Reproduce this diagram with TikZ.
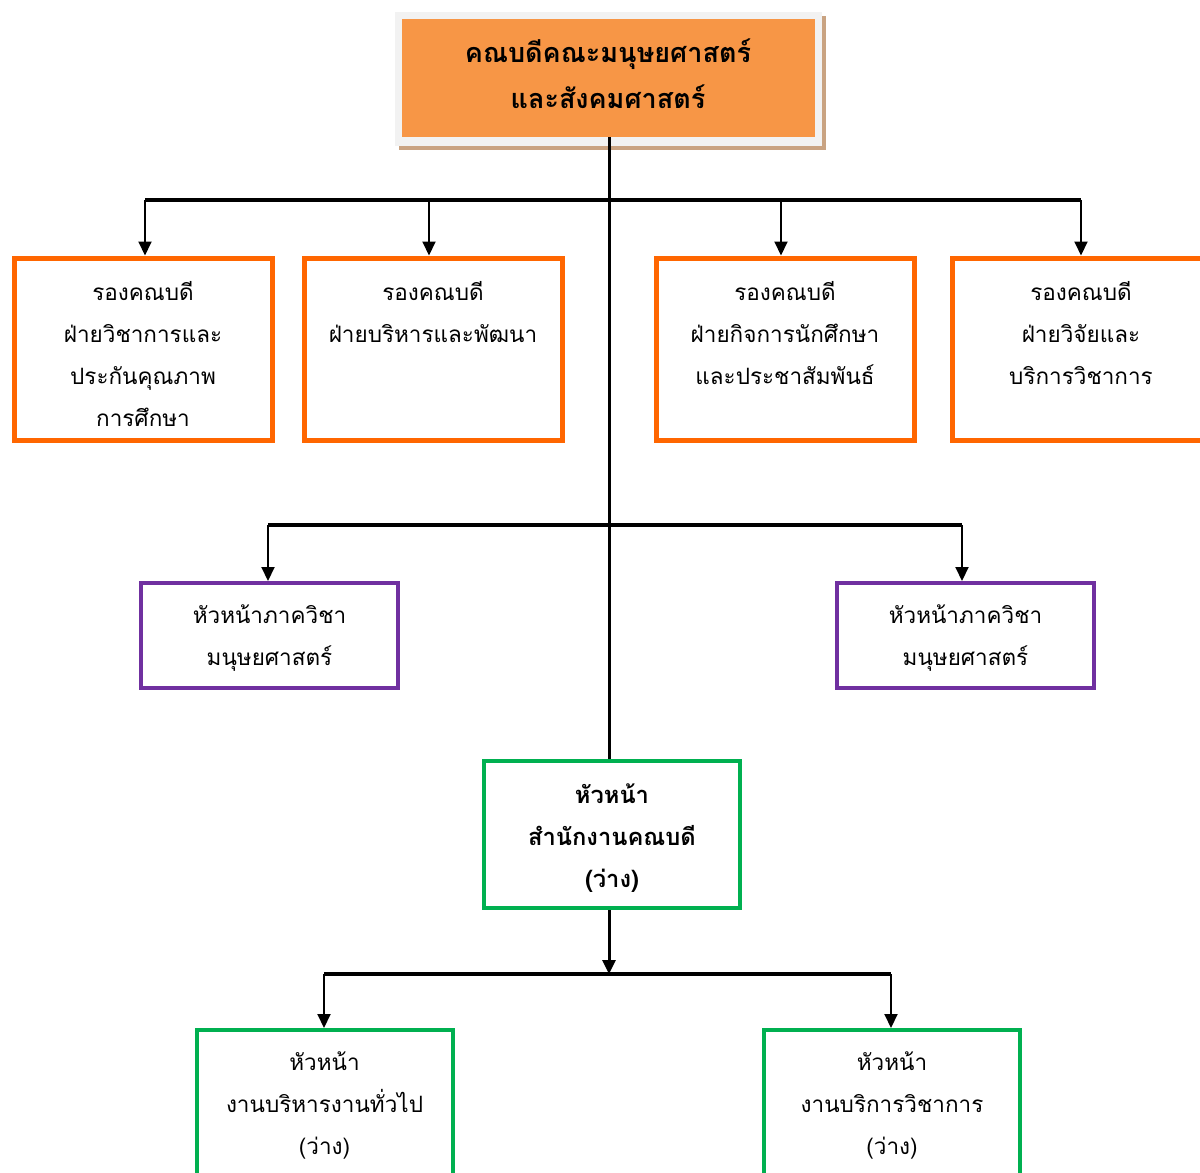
\documentclass[tikz,border=0pt]{standalone}
\usepackage{fontspec}
\newfontfamily\thai[Script=Thai]{Loma}
\usetikzlibrary{arrows.meta}
\definecolor{deanfill}{HTML}{F79646}
\definecolor{deanframe}{HTML}{F2F2F2}
\definecolor{deanshadow}{HTML}{C9A382}
\definecolor{vdean}{HTML}{FF6600}
\definecolor{dept}{HTML}{7030A0}
\definecolor{office}{HTML}{00B050}
\begin{document}
\begin{tikzpicture}[x=1pt,y=-1pt,
  txt/.style={font=\thai\fontsize{22.5}{42}\selectfont, align=center, inner sep=0pt, anchor=north},
  btxt/.style={txt, font=\thai\bfseries\fontsize{23.7}{42}\selectfont},
  obox/.style={draw=vdean, line width=5pt, minimum width=258pt, minimum height=182pt, inner sep=0pt},
  pbox/.style={draw=dept, line width=4pt, minimum width=257pt, minimum height=105pt, inner sep=0pt},
  gbox/.style={draw=office, line width=4pt, minimum width=256pt, minimum height=147pt, inner sep=0pt},
  bar/.style={line width=4pt},
  trunk/.style={line width=3pt},
  drop/.style={line width=2pt, -{Triangle[width=13pt,length=14pt]}}
]
\clip (0,0) rectangle (1200,1173);
\fill[white] (0,0) rectangle (1200,1173);

% dean box: shadow, light frame, orange face
\fill[deanshadow] (399,16) rectangle (826,150);
\fill[deanframe] (395,12) rectangle (822,146);
\node[fill=deanfill, minimum width=413pt, minimum height=118pt, inner sep=0pt] (dean) at (608.5,78) {};
\node[btxt, font=\thai\bfseries\fontsize{27}{46}\selectfont] (deantxt) at (608,39) {คณบดีคณะมนุษยศาสตร์\\และสังคมศาสตร์};

% vice deans
\node[obox] (v1) at (143,349) {};
\node[obox] (v2) at (433,349) {};
\node[obox] (v3) at (785,349) {};
\node[obox] (v4) at (1081,349) {};
\node[txt] (v1t) at (143,281) {รองคณบดี\\ฝ่ายวิชาการและ\\ประกันคุณภาพ\\การศึกษา};
\node[txt] (v2t) at (433,281) {รองคณบดี\\ฝ่ายบริหารและพัฒนา};
\node[txt] (v3t) at (785,281) {รองคณบดี\\ฝ่ายกิจการนักศึกษา\\และประชาสัมพันธ์};
\node[txt] (v4t) at (1081,281) {รองคณบดี\\ฝ่ายวิจัยและ\\บริการวิชาการ};

% department heads
\node[pbox] (d1) at (269.5,635.5) {};
\node[pbox] (d2) at (965.5,635.5) {};
\node[txt] (d1t) at (269.5,605) {หัวหน้าภาควิชา\\มนุษยศาสตร์};
\node[txt] (d2t) at (965.5,605) {หัวหน้าภาควิชา\\มนุษยศาสตร์};

% faculty office
\node[gbox] (off) at (612,834.5) {};
\node[btxt] (offt) at (612,783) {หัวหน้า\\สำนักงานคณบดี\\(ว่าง)};

% office units
\node[gbox] (u1) at (324.5,1103.5) {};
\node[gbox] (u2) at (892,1103.5) {};
\node[txt] (u1t) at (324.5,1051) {หัวหน้า\\งานบริหารงานทั่วไป\\(ว่าง)};
\node[txt] (u2t) at (892,1051) {หัวหน้า\\งานบริการวิชาการ\\(ว่าง)};

% connector points
\coordinate (a1) at (145,200);
\coordinate (a2) at (429,200);
\coordinate (a3) at (781,200);
\coordinate (a4) at (1081,200);
\coordinate (b1) at (268,525);
\coordinate (b2) at (962,525);
\coordinate (c0) at (609,974);
\coordinate (c1) at (324,974);
\coordinate (c2) at (891,974);

% trunk from dean to office
\draw[trunk] (c0 |- dean.south) -- (c0 |- off.north);
\draw[bar] (a1) -- (a4);
\draw[bar] (b1) -- (b2);
\draw[drop] (a1) -- (a1 |- v1.north);
\draw[drop] (a2) -- (a2 |- v2.north);
\draw[drop] (a3) -- (a3 |- v3.north);
\draw[drop] (a4) -- (a4 |- v4.north);
\draw[drop] (b1) -- (b1 |- d1.north);
\draw[drop] (b2) -- (b2 |- d2.north);
\draw[drop, line width=3pt] (c0 |- off.south) -- (c0);
\draw[bar] (c1) -- (c2);
\draw[drop] (c1) -- (c1 |- u1.north);
\draw[drop] (c2) -- (c2 |- u2.north);
\end{tikzpicture}
\end{document}
